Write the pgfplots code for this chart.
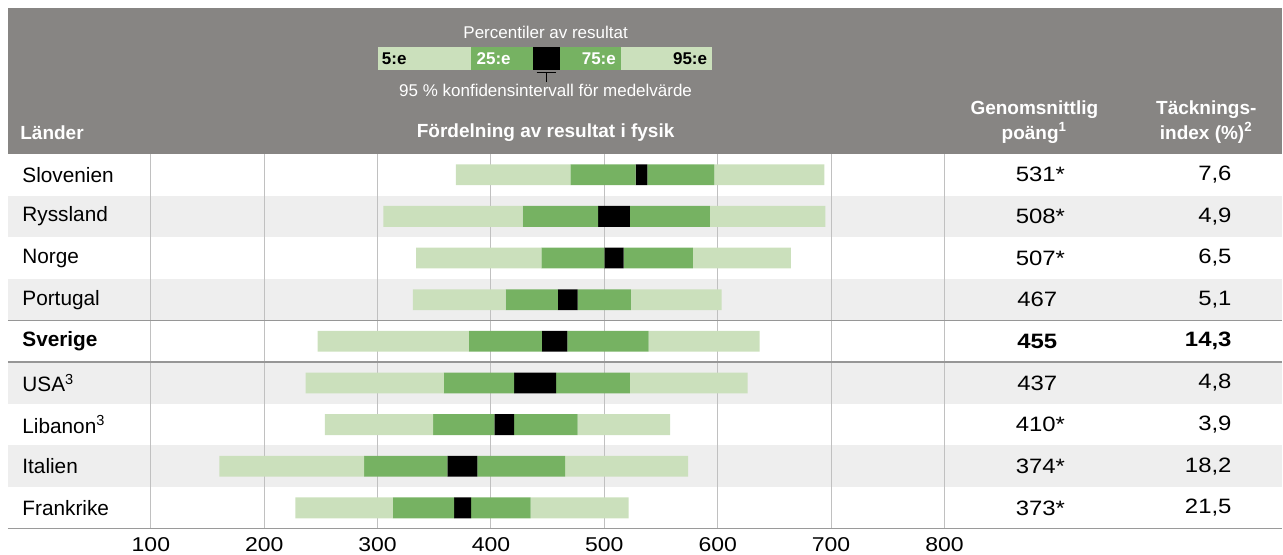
\documentclass[border=0pt]{standalone}
\usepackage{fontspec}
\setmainfont{Liberation Sans}
\newfontfamily\widefont[FakeStretch=1.15]{Liberation Sans}
\usepackage{pgfplots}
\pgfplotsset{compat=1.18}
\usepackage{pgfplotstable}

\definecolor{hdrgray}{RGB}{135,133,131}
\definecolor{rowgray}{RGB}{238,238,238}
\definecolor{lgreen}{RGB}{203,224,188}
\definecolor{dgreen}{RGB}{118,178,98}
\definecolor{gridgray}{RGB}{192,192,192}
\definecolor{sepgray}{RGB}{150,150,150}

% percentiles and 95 % CI of the mean, one row per country (top to bottom)
\pgfplotstableread{
y p5    p25   lo    hi    p75   p95
1 369   470   527.5 538   597   694
2 305   428   494.5 522.5 593   695
3 334   444.5 500   517   578   664.5
4 331   413   459   476.5 523.5 603.5
5 247   380.5 445   467.5 539   637
6 236.5 358.5 420.5 457.5 522.5 626.5
7 253.5 349   403   420.5 476.5 558
8 160.5 288   361.5 388   465.5 574
9 227.5 313.5 367.5 382.5 435   521.5
}\fysik

\pgfplotsset{
  sheet/.style={
    scale only axis,
    width=641.5pt, height=277.5pt,
    xmin=-33.1, xmax=1098,
    ymin=-3.196, ymax=10.123,
    y dir=reverse,
    axis line style={draw=none},
    xtick=\empty, ytick=\empty,
    clip=false,
  },
}
\tikzset{
  rowtxt/.style={font=\fontsize{10.4}{12}\selectfont, inner sep=0pt},
  numtxt/.style={font=\widefont\fontsize{10.4}{12}\selectfont, inner sep=0pt},
  hdtxt/.style={font=\fontsize{9.5}{11}\selectfont\bfseries, text=white, inner sep=0pt},
  keytxt/.style={font=\fontsize{8.5}{10}\selectfont\bfseries, inner sep=0pt},
}

\begin{document}
\begin{tikzpicture}
% --- backdrop: header band, row shading, grid, legend key
\begin{axis}[sheet]
\fill[hdrgray] (axis cs:-26.1,-3.0) rectangle (axis cs:1098,0.5);
\fill[rowgray] (axis cs:-26.1,1.5) rectangle (axis cs:1098,2.5);
\fill[rowgray] (axis cs:-26.1,3.5) rectangle (axis cs:1098,4.5);
\fill[rowgray] (axis cs:-26.1,5.5) rectangle (axis cs:1098,6.5);
\fill[rowgray] (axis cs:-26.1,7.5) rectangle (axis cs:1098,8.5);
\pgfplotsinvokeforeach{100,200,300,400,500,600,700,800}{
  \draw[gridgray, line width=0.5pt] (axis cs:#1,0.5) -- (axis cs:#1,9.5);
}
\draw[gridgray!80!black, line width=0.6pt] (axis cs:-26.1,9.5) -- (axis cs:1098,9.5);
\draw[sepgray, line width=0.75pt] (axis cs:-26.1,4.5) -- (axis cs:1098,4.5);
\draw[sepgray, line width=0.75pt] (axis cs:-26.1,5.5) -- (axis cs:1098,5.5);
% legend key
\fill[lgreen] (axis cs:300.1,-2.061) rectangle (axis cs:382.1,-1.516);
\fill[dgreen] (axis cs:382.1,-2.061) rectangle (axis cs:436.8,-1.516);
\fill[black]  (axis cs:436.8,-2.061) rectangle (axis cs:460.6,-1.516);
\fill[dgreen] (axis cs:460.6,-2.061) rectangle (axis cs:514.4,-1.516);
\fill[lgreen] (axis cs:514.4,-2.061) rectangle (axis cs:594.6,-1.516);
\draw[black, line width=0.6pt] (axis cs:440.3,-1.461) -- (axis cs:457.1,-1.461)
  (axis cs:448.7,-1.461) -- (axis cs:448.7,-1.235);
\end{axis}

% --- data and text
\begin{axis}[sheet, xbar stacked, bar width=0.5]
\addplot[draw=none, fill=none] table[x=p5, y=y] {\fysik};
\addplot[draw=none, fill=lgreen] table[x expr=\thisrow{p25}-\thisrow{p5}, y=y] {\fysik};
\addplot[draw=none, fill=dgreen] table[x expr=\thisrow{lo}-\thisrow{p25}, y=y] {\fysik};
\addplot[draw=none, fill=black] table[x expr=\thisrow{hi}-\thisrow{lo}, y=y] {\fysik};
\addplot[draw=none, fill=dgreen] table[x expr=\thisrow{p75}-\thisrow{hi}, y=y] {\fysik};
\addplot[draw=none, fill=lgreen] table[x expr=\thisrow{p95}-\thisrow{p75}, y=y] {\fysik};

\pgfplotsinvokeforeach{100,200,300,400,500,600,700,800}{
  \node[font=\widefont\fontsize{10}{11}\selectfont, inner sep=0pt] at (axis cs:#1,9.87) {#1};
}

% header texts
\node[font=\fontsize{8.5}{10}\selectfont, text=white, inner sep=0pt] at (axis cs:448.2,-2.41) {Percentiler av resultat};
\node[keytxt, anchor=west] at (axis cs:303.5,-1.79) {5:e};
\node[keytxt, anchor=west, text=white] at (axis cs:387,-1.79) {25:e};
\node[keytxt, anchor=east, text=white] at (axis cs:510.5,-1.79) {75:e};
\node[keytxt, anchor=east] at (axis cs:591,-1.79) {95:e};
\node[font=\fontsize{8.5}{10}\selectfont, text=white, inner sep=0pt] at (axis cs:448.2,-1.02) {95 \% konfidensintervall för medelvärde};
\node[hdtxt, anchor=west] at (axis cs:-15.5,0) {Länder};
\node[hdtxt] at (axis cs:448.2,0) {Fördelning av resultat i fysik};
\node[hdtxt] at (axis cs:879.3,-0.556) {Genomsnittlig};
\node[hdtxt] at (axis cs:879.3,0) {poäng\textsuperscript{1}};
\node[hdtxt] at (axis cs:1031,-0.556) {Täcknings-};
\node[hdtxt] at (axis cs:1031,0) {index (\%)\textsuperscript{2}};

% row labels
\node[rowtxt, anchor=west] at (axis cs:-13.7,1) {Slovenien};
\node[rowtxt, anchor=west] at (axis cs:-13.7,2) {Ryssland};
\node[rowtxt, anchor=west] at (axis cs:-13.7,3) {Norge};
\node[rowtxt, anchor=west] at (axis cs:-13.7,4) {Portugal};
\node[rowtxt, anchor=west] at (axis cs:-13.7,5) {\textbf{Sverige}};
\node[rowtxt, anchor=west] at (axis cs:-13.7,6) {USA\textsuperscript{3}};
\node[rowtxt, anchor=west] at (axis cs:-13.7,7) {Libanon\textsuperscript{3}};
\node[rowtxt, anchor=west] at (axis cs:-13.7,8) {Italien};
\node[rowtxt, anchor=west] at (axis cs:-13.7,9) {Frankrike};
% average score
\node[numtxt, anchor=west] at (axis cs:862.6,1) {531*};
\node[numtxt, anchor=west] at (axis cs:862.6,2) {508*};
\node[numtxt, anchor=west] at (axis cs:862.6,3) {507*};
\node[numtxt, anchor=west] at (axis cs:864,4) {467};
\node[numtxt, anchor=west] at (axis cs:864,5) {\textbf{455}};
\node[numtxt, anchor=west] at (axis cs:864,6) {437};
\node[numtxt, anchor=west] at (axis cs:862.6,7) {410*};
\node[numtxt, anchor=west] at (axis cs:862.6,8) {374*};
\node[numtxt, anchor=west] at (axis cs:862.6,9) {373*};
% coverage index
\node[numtxt, anchor=east] at (axis cs:1053.6,1) {7,6};
\node[numtxt, anchor=east] at (axis cs:1053.6,2) {4,9};
\node[numtxt, anchor=east] at (axis cs:1053.6,3) {6,5};
\node[numtxt, anchor=east] at (axis cs:1053.6,4) {5,1};
\node[numtxt, anchor=east] at (axis cs:1053.6,5) {\textbf{14,3}};
\node[numtxt, anchor=east] at (axis cs:1053.6,6) {4,8};
\node[numtxt, anchor=east] at (axis cs:1053.6,7) {3,9};
\node[numtxt, anchor=east] at (axis cs:1053.6,8) {18,2};
\node[numtxt, anchor=east] at (axis cs:1053.6,9) {21,5};
\end{axis}
\end{tikzpicture}
\end{document}
